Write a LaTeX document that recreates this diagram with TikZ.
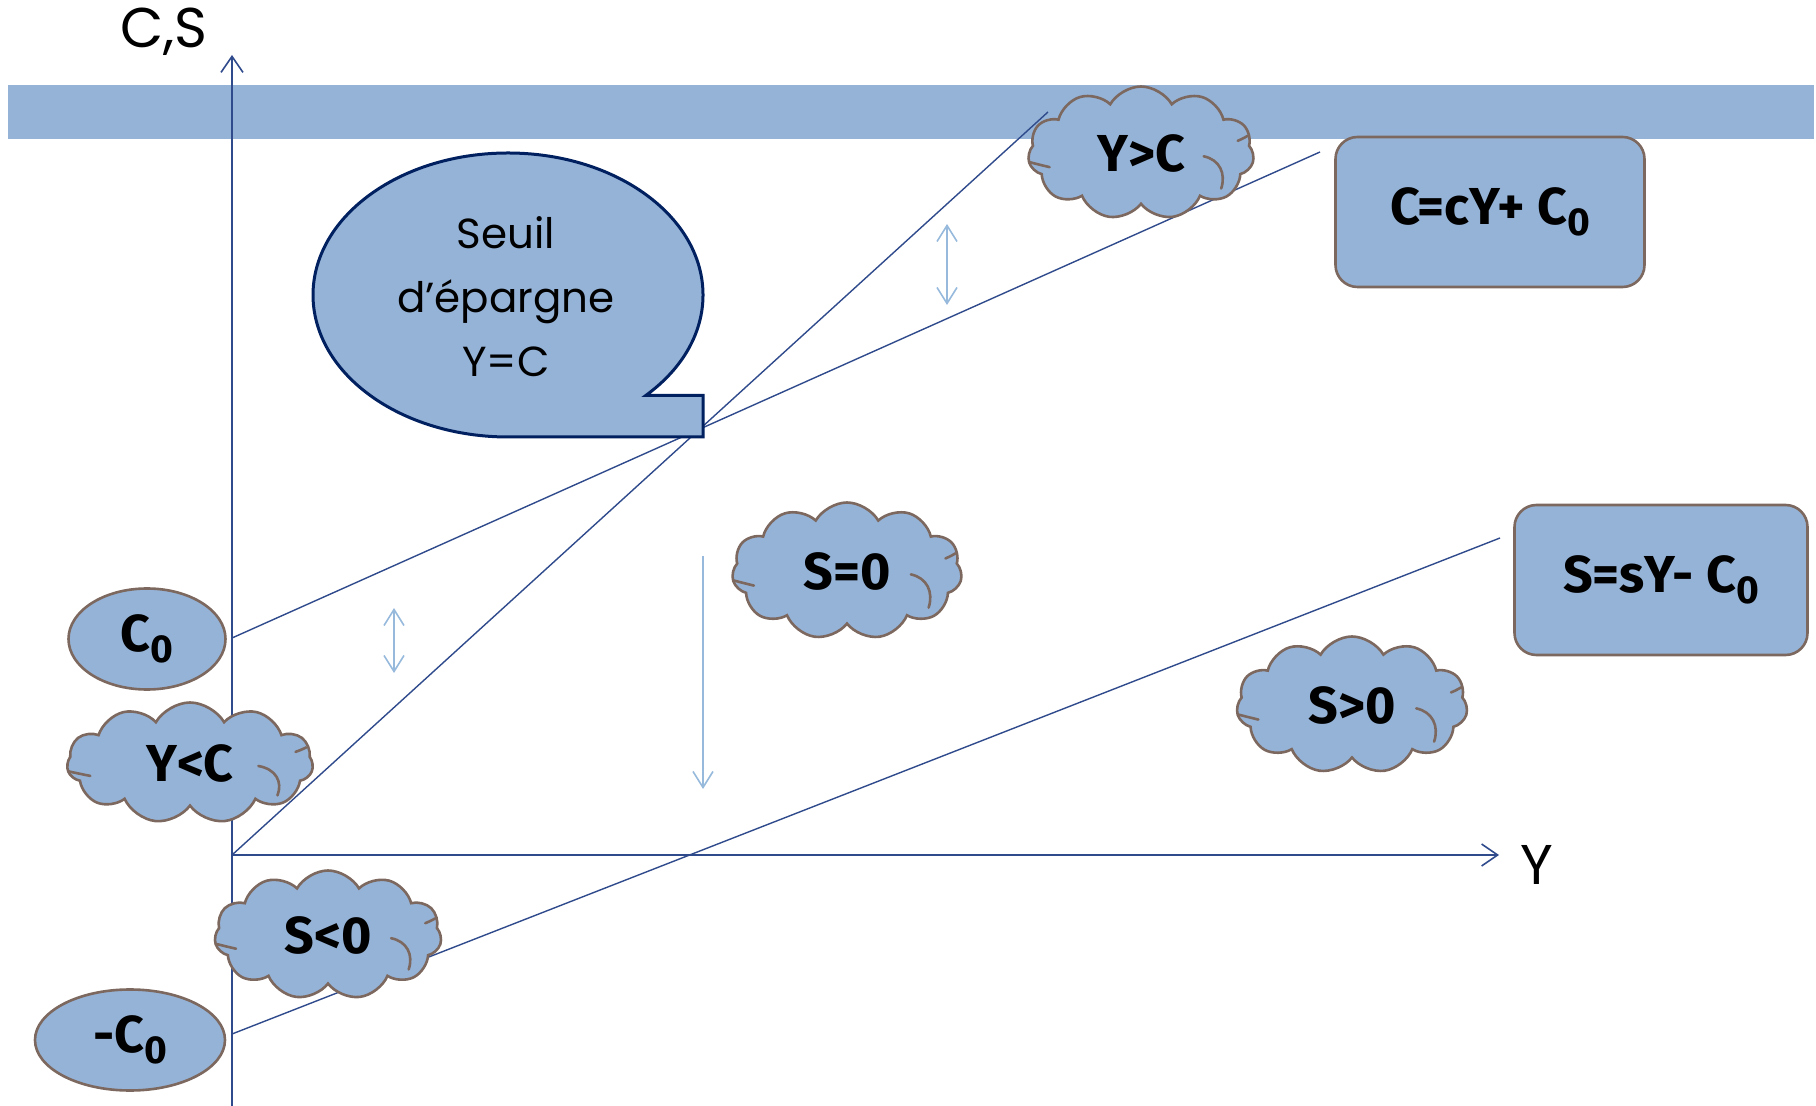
\documentclass[tikz,border=0pt]{standalone}
\usepackage{fontspec}
\usepackage{graphicx}
\usetikzlibrary{shapes.symbols,shapes.geometric,arrows.meta}
\newfontfamily\labfont{Poppins}
\newfontfamily\cloudfont{Fira Sans}
\definecolor{fillblue}{RGB}{149,179,215}
\definecolor{edgebrown}{RGB}{124,104,94}
\definecolor{linenavy}{RGB}{47,75,140}
\definecolor{bubbleedge}{RGB}{0,32,96}
\definecolor{arrowlight}{RGB}{150,185,220}
\newcommand\subz{\raisebox{-0.22em}{\scalebox{0.75}{0}}}
\newcommand\cloudmarks[3]{%
  \begin{scope}[shift={(#1.center)}, xscale=#2, yscale=#3]
    \draw[cloudmark] (-337,28) .. controls (-310,35) .. (-277,43);
    \draw[cloudmark] (190,10) .. controls (238,20) and (258,62) .. (243,108);
    \draw[cloudmark] (293,-37) .. controls (305,-42) .. (323,-52);
  \end{scope}}
\begin{document}
\begin{tikzpicture}[x=0.5pt,y=-0.5pt,
  axisline/.style={draw=linenavy, line width=0.8pt, -{Straight Barb[length=8pt,width=11pt]}},
  graphline/.style={draw=linenavy, line width=0.7pt},
  hint/.style={draw=arrowlight, line width=0.8pt},
  hintboth/.style={hint, {Straight Barb[length=8pt,width=10pt]}-{Straight Barb[length=8pt,width=10pt]}},
  hintone/.style={hint, -{Straight Barb[length=8pt,width=10pt]}},
  boldtext/.style={font=\cloudfont\bfseries\fontsize{26}{30}\selectfont},
  cloudnode/.style={cloud, cloud puffs=11, cloud puff arc=120, cloud ignores aspect,
    draw=edgebrown, line width=1.3pt, fill=fillblue, inner sep=0pt, boldtext},
  cloudmark/.style={draw=edgebrown, line width=1.3pt, line cap=round},
  ovalnode/.style={ellipse, draw=edgebrown, line width=1.3pt, fill=fillblue, inner sep=0pt, boldtext},
  eqbox/.style={rectangle, rounded corners=11pt, draw=edgebrown, line width=1.3pt, fill=fillblue, inner sep=0pt, boldtext},
  axislabel/.style={font=\labfont\fontsize{28}{32}\selectfont},
  bubbletext/.style={font=\labfont\fontsize{21}{32}\selectfont, align=center}
]
\useasboundingbox (0,0) rectangle (1816,1106);
% band
\fill[fillblue] (8,85) rectangle (1814,139);
% axes
\coordinate (O) at (232,855);
\coordinate (ytop) at (232,55);
\coordinate (ybot) at (232,1106);
\coordinate (xend) at (1499,855);
\draw[axisline] (ybot) -- (ytop);
\draw[axisline] (O) -- (xend);
\node[axislabel] (cslabel) at (164,32) {C,S};
\node[axislabel] (ylabel) at (1537,865) {Y};
% graph lines
\coordinate (c0pt) at (232,638);
\coordinate (cend) at (1320,152);
\coordinate (yend) at (1048,112);
\coordinate (s0pt) at (232,1034);
\coordinate (send) at (1500,538);
\draw[graphline] (c0pt) -- (cend);
\draw[graphline] (O) -- (yend);
\draw[graphline] (s0pt) -- (send);
% hint arrows
\coordinate (h1a) at (394,608); \coordinate (h1b) at (394,673);
\coordinate (h2a) at (947,224); \coordinate (h2b) at (947,305);
\coordinate (h3a) at (703,556); \coordinate (h3b) at (703,789);
\draw[hintboth] (h1a) -- (h1b);
\draw[hintboth] (h2a) -- (h2b);
\draw[hintone] (h3a) -- (h3b);
% speech bubble
\filldraw[fill=fillblue, draw=bubbleedge, line width=1.5pt]
  (645.9,395.4) arc[start angle=45, end angle=-270, x radius=195, y radius=142]
  -- (703,437) -- (703,395.4) -- cycle;
\node[bubbletext] (seuil) at (506,297) {Seuil\\d’épargne\\Y=C};
% boxes and ovals
\node[eqbox, minimum width=154.5pt, minimum height=75pt] (ceq) at (1490,212) {C=cY+ C\subz};
\node[eqbox, minimum width=146.5pt, minimum height=75pt] (seq) at (1661,580) {S=sY- C\subz};
\node[ovalnode, minimum width=78.5pt, minimum height=50.5pt] (c0) at (147,639) {C\subz};
\node[ovalnode, minimum width=95pt, minimum height=50.5pt] (mc0) at (130,1040) {-C\subz};
% clouds
\node[cloudnode, minimum width=113pt, minimum height=66.5pt] (ygc) at (1141,153) {Y>C};
\cloudmarks{ygc}{0.330}{0.329}
\node[cloudnode, minimum width=123pt, minimum height=60.5pt] (ylc) at (190,763) {Y<C};
\cloudmarks{ylc}{0.360}{0.300}
\node[cloudnode, minimum width=115pt, minimum height=68.5pt] (szero) at (847,571) {S=0};
\cloudmarks{szero}{0.336}{0.339}
\node[cloudnode, minimum width=115.5pt, minimum height=68.5pt] (sgt) at (1352,705) {S>0};
\cloudmarks{sgt}{0.338}{0.339}
\node[cloudnode, minimum width=113.5pt, minimum height=64.5pt] (slt) at (328,935) {S<0};
\cloudmarks{slt}{0.332}{0.319}
\end{tikzpicture}
\end{document}
